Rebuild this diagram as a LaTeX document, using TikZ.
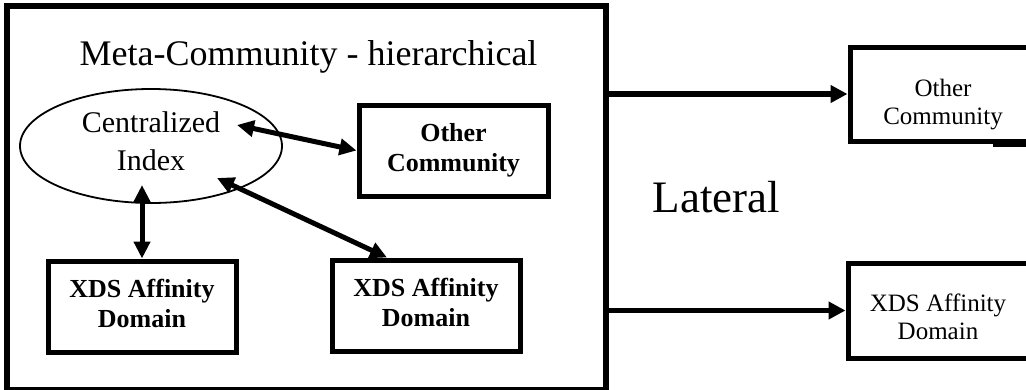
\documentclass[tikz,border=0pt]{standalone}
\usepackage{fontspec}
\setmainfont{Liberation Serif}
\usetikzlibrary{arrows.meta,shapes.geometric}
\begin{document}
\begin{tikzpicture}[x=1pt,y=-1pt,
  thickbox/.style={draw,rectangle,line width=5pt,inner sep=0pt,align=center},
  boldlbl/.style={font=\fontsize{26}{30}\selectfont\bfseries},
  reglbl/.style={font=\fontsize{25}{28}\selectfont},
  arr/.style={line width=5.5pt,-{Triangle[length=17pt,width=17pt]}},
  darr/.style={line width=5pt,{Triangle[length=17pt,width=16pt]}-{Triangle[length=17pt,width=16pt]}}]
\useasboundingbox (0,0) rectangle (1026,389);
\fill[white] (0,0) rectangle (1026,389);
% outer meta-community frame
\node[draw,rectangle,line width=5.5pt,inner sep=0pt,minimum width=599pt,minimum height=384pt] (outer) at (306.5,198) {};
\node[font=\fontsize{36}{40}\selectfont,anchor=base] (title) at (308.5,65) {Meta-Community - hierarchical};
% centralized index
\node[ellipse,draw,line width=1.8pt,minimum width=262pt,minimum height=114pt,inner sep=0pt,align=center,font=\fontsize{30}{38}\selectfont] (ci) at (151,146) {Centralized\\Index\rule[-10pt]{0pt}{10pt}};
% inner boxes
\node[thickbox,boldlbl,minimum width=189pt,minimum height=91pt] (ocin) at (453.5,150.5) {Other\\Community};
\node[thickbox,boldlbl,minimum width=188pt,minimum height=91pt] (xdsA) at (142,306.5) {XDS Affinity\\Domain\rule[-6pt]{0pt}{6pt}};
\node[thickbox,boldlbl,minimum width=188pt,minimum height=91pt] (xdsB) at (426,305.5) {XDS Affinity\\Domain\rule[-6pt]{0pt}{6pt}};
% outside boxes
\node[thickbox,reglbl,minimum width=186pt,minimum height=94pt] (ocout) at (943,94) {\rule{0pt}{39pt}Other\\Community};
\node[thickbox,reglbl,minimum width=180pt,minimum height=95pt] (xdsout) at (938,310.5) {\rule{0pt}{31pt}XDS Affinity\\Domain};
\draw[line width=5pt] (993,144.5) -- (1030,144.5);
\node[font=\fontsize{45}{50}\selectfont,anchor=base] (lat) at (716.5,212) {Lateral};
% connectors
\coordinate (c1) at (237,125);
\coordinate (c2) at (142,185);
\coordinate (c3) at (217,178);
\draw[darr] (c1) -- (ocin.west);
\draw[darr] (c2) -- (xdsA.north);
\draw[darr] (c3) -- ([xshift=-39pt]xdsB.north);
\draw[arr] (outer.east |- ocout.west) -- (ocout.west);
\draw[arr] (outer.east |- xdsout.west) -- (xdsout.west);
\end{tikzpicture}
\end{document}
